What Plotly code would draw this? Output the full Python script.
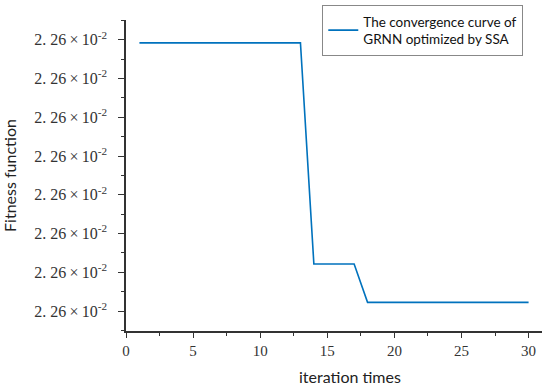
import plotly.graph_objects as go

# Data
iterations = list(range(1, 31))
fitness = [0.02260292] * 13 + [0.022597213] * 4 + [0.022596224] * 13
series_name = "The convergence curve of<br>GRNN optimized by SSA"

y_tick_values = [0.022596 + i * 0.000001 for i in range(8)]
y_tick_labels = ["2. 26\u2009×\u200910<sup>-2</sup>"] * 8
y_minor_values = [0.0225955 + i * 0.000001 for i in range(9)]
x_tick_values = [0, 5, 10, 15, 20, 25, 30]
x_minor_values = [2.5, 7.5, 12.5, 17.5, 22.5, 27.5]
x_title = "iteration times"
y_title = "Fitness function"

axis_color = "#333333"
sans = "Lato, Open Sans, sans-serif"
serif = "Liberation Serif, serif"

fig = go.Figure()
fig.add_trace(go.Scatter(
    x=iterations, y=fitness, mode="lines", name=series_name,
    line=dict(color="#0072BD", width=1.6),
))

fig.add_annotation(
    text=x_title, xref="paper", yref="paper", x=0.538, y=-0.145,
    xanchor="center", yanchor="middle", showarrow=False,
    font=dict(family=sans, size=16, color="#222222"),
)

fig.update_layout(
    width=550, height=388,
    margin=dict(l=126, r=8, t=20, b=57, autoexpand=False),
    paper_bgcolor="white", plot_bgcolor="white",
    showlegend=True,
    legend=dict(
        x=0.955, y=1.048, xanchor="right", yanchor="top",
        bordercolor="#888888", borderwidth=1, bgcolor="white",
        font=dict(family=sans, size=13.5, color="#111111"),
        itemwidth=30,
    ),
    xaxis=dict(
        range=[0, 31], tickmode="array", tickvals=x_tick_values,
        showgrid=False, zeroline=False, automargin=False,
        showline=True, linecolor=axis_color, linewidth=1.5,
        ticks="outside", ticklen=5, tickwidth=1.2, tickcolor=axis_color,
        minor=dict(ticks="outside", ticklen=3, tickwidth=1, tickcolor=axis_color,
                   tickvals=x_minor_values),
        tickfont=dict(family=serif, size=15, color="#333333"),
    ),
    yaxis=dict(
        range=[0.022596 - 0.516e-6, 0.022596 + 7.51e-6],
        tickmode="array", tickvals=y_tick_values, ticktext=y_tick_labels,
        showgrid=False, zeroline=False, automargin=False,
        showline=True, linecolor=axis_color, linewidth=1.5,
        ticks="outside", ticklen=6, tickwidth=1.2, tickcolor=axis_color,
        ticklabelstandoff=8,
        minor=dict(ticks="outside", ticklen=3, tickwidth=1, tickcolor=axis_color,
                   tickvals=y_minor_values),
        tickfont=dict(family=serif, size=16, color="#333333"),
        title=dict(text=y_title,
                   font=dict(family=sans, size=16, color="#222222"),
                   standoff=14),
    ),
)

fig.write_html("out.html", config={"displayModeBar": False},
               post_script="document.body.style.margin='0';")
